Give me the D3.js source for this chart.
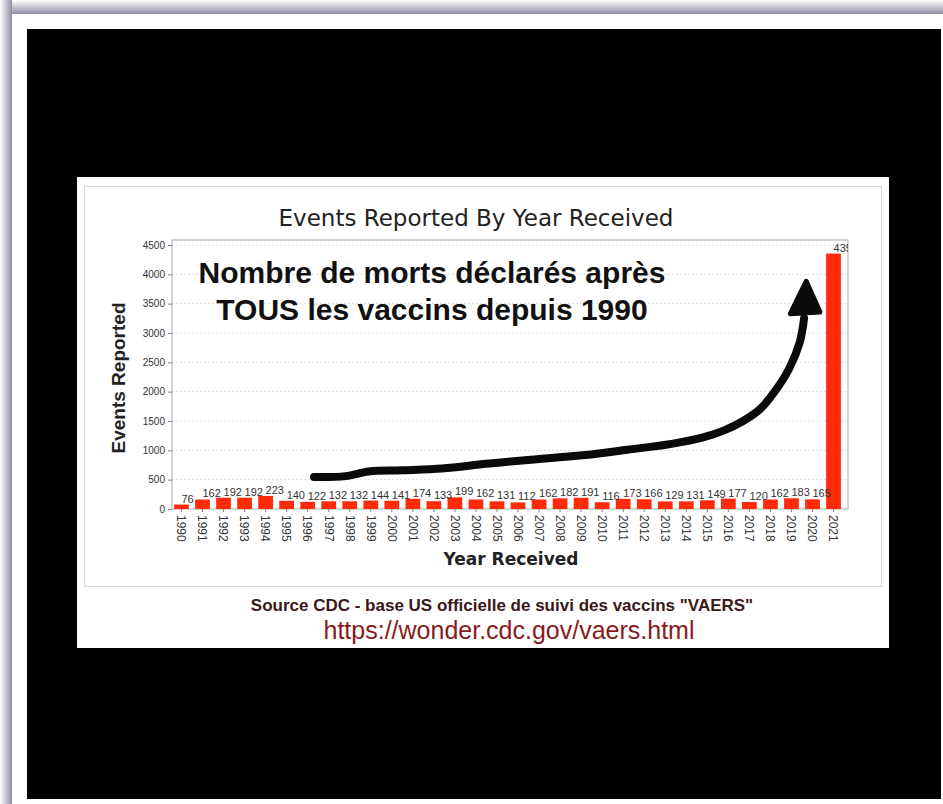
<!DOCTYPE html>
<html>
	<head>
		<meta charset="utf-8">
		<title>Events Reported By Year Received</title>
		<style>
			body {
				margin: 0;
				background: #fff;
			}
			svg {
				display: block;
			}
			.tick text {
				font: 10px "Liberation Sans", Arial, sans-serif;
				fill: #333;
			}
			.xaxis .tick text {
				font-size: 12px;
			}
			.barlabel {
				font: 11px "Liberation Sans", Arial, sans-serif;
				fill: #333;
			}
		</style>
	</head>
	<body>
		<script src="https://cdn.jsdelivr.net/npm/d3@7"></script>
		<script>
			// deaths reported per year (VAERS)
			var years = d3.range(1990, 2022);
			var counts = [76, 162, 192, 192, 223, 140, 122, 132, 132, 144, 141, 174, 133, 199, 162, 131,
				112, 162, 182, 191, 116, 173, 166, 129, 131, 149, 177, 120, 162, 183, 165, 4354];
			var yTicks = [0, 500, 1000, 1500, 2000, 2500, 3000, 3500, 4000, 4500];

			// hand drawn arrow, in [year, events] coordinates
			var arrowLine = [[1996.3, 545], [1997.8, 560], [1998.9, 640], [2000.5, 660], [2002.4, 690],
				[2004.5, 770], [2006.6, 840], [2009.2, 920], [2011.2, 1010], [2013.3, 1110],
				[2014.8, 1220], [2015.8, 1340], [2016.7, 1500], [2017.5, 1700], [2018.2, 2000],
				[2018.9, 2400], [2019.4, 2850], [2019.6, 3250]];
			var arrowHead = [[2019.7, 3880], [2018.95, 3330], [2020.35, 3360]];

			var width = 943;
			var height = 804;
			var svg = d3.select('body').append('svg')
						.attr('width', width)
						.attr('height', height);

			// frame of the screenshot
			var defs = svg.append('defs');
			var gTop = defs.append('linearGradient').attr('id', 'shTop')
				.attr('x1', 0).attr('y1', 0).attr('x2', 0).attr('y2', 1);
			gTop.append('stop').attr('offset', '0%').attr('stop-color', '#fff');
			gTop.append('stop').attr('offset', '100%').attr('stop-color', '#8e8ea2');
			var gLeft = defs.append('linearGradient').attr('id', 'shLeft')
				.attr('x1', 0).attr('y1', 0).attr('x2', 1).attr('y2', 0);
			gLeft.append('stop').attr('offset', '0%').attr('stop-color', '#fff');
			gLeft.append('stop').attr('offset', '100%').attr('stop-color', '#8e8ea2');

			svg.append('rect').attr('x', 0).attr('y', 0).attr('width', width).attr('height', 14)
				.attr('fill', 'url(#shTop)');
			svg.append('rect').attr('x', 0).attr('y', 0).attr('width', 12).attr('height', height)
				.attr('fill', 'url(#shLeft)');
			svg.append('rect').attr('x', 12).attr('y', 14).attr('width', width - 12).attr('height', height - 14)
				.attr('fill', '#fff');
			svg.append('rect').attr('x', 27).attr('y', 29).attr('width', 914).attr('height', 770)
				.attr('fill', '#000');

			// the chart picture
			svg.append('rect').attr('x', 77).attr('y', 177).attr('width', 812).attr('height', 471)
				.attr('fill', '#fff');
			svg.append('rect').attr('x', 84.5).attr('y', 186.5).attr('width', 797).attr('height', 400)
				.attr('fill', 'none')
				.attr('stroke', '#aaa')
				.attr('stroke-dasharray', '1,1');

			var plot = { left: 172, right: 848, top: 240, bottom: 509 };

			var x = d3.scaleBand()
				.domain(years)
				.range([plot.left, plot.right - 5])
				.paddingInner(0.3)
				.paddingOuter(0.1);
			var y = d3.scaleLinear()
				.domain([0, 4500])
				.range([plot.bottom, 245]);
			// continuous year scale for the arrow, centred on the bars
			var xc = d3.scaleLinear()
				.domain([1990, 2021])
				.range([x(1990) + x.bandwidth() / 2, x(2021) + x.bandwidth() / 2]);

			svg.append('text')
				.attr('x', 476)
				.attr('y', 226)
				.attr('text-anchor', 'middle')
				.style('font', '23px "DejaVu Sans", Verdana, sans-serif')
				.style('fill', '#222')
				.text('Events Reported By Year Received');

			// grid
			svg.append('g')
				.selectAll('line')
				.data(yTicks.slice(1))
				.enter().append('line')
				.attr('x1', plot.left).attr('x2', plot.right)
				.attr('y1', function(d) { return y(d); })
				.attr('y2', function(d) { return y(d); })
				.attr('stroke', '#ddd')
				.attr('stroke-dasharray', '2,2');

			svg.append('rect')
				.attr('x', plot.left).attr('y', plot.top)
				.attr('width', plot.right - plot.left).attr('height', plot.bottom - plot.top)
				.attr('fill', 'none')
				.attr('stroke', '#aaa');

			defs.append('clipPath').attr('id', 'plotClip')
				.append('rect')
				.attr('x', plot.left).attr('y', plot.top)
				.attr('width', plot.right - plot.left).attr('height', plot.bottom - plot.top);

			var bars = svg.append('g').attr('clip-path', 'url(#plotClip)');
			bars.selectAll('rect')
				.data(counts)
				.enter().append('rect')
				.attr('x', function(d, i) { return x(years[i]); })
				.attr('y', function(d) { return y(d); })
				.attr('width', x.bandwidth())
				.attr('height', function(d) { return plot.bottom - y(d); })
				.attr('fill', '#ff2a0a');

			bars.selectAll('text')
				.data(counts)
				.enter().append('text')
				.attr('class', 'barlabel')
				.attr('x', function(d, i) { return x(years[i]) + x.bandwidth() / 2; })
				.attr('y', function(d) { return y(d) - 2; })
				.text(function(d) { return d; });

			// axes
			var yAxis = svg.append('g')
				.attr('transform', 'translate(' + plot.left + ',0)')
				.call(d3.axisLeft(y).tickValues(yTicks).tickFormat(d3.format('d')).tickSize(4).tickPadding(3));
			yAxis.select('.domain').remove();
			yAxis.selectAll('.tick line').attr('stroke', '#888');

			var xAxis = svg.append('g')
				.attr('class', 'xaxis')
				.attr('transform', 'translate(0,' + plot.bottom + ')')
				.call(d3.axisBottom(x).tickSize(3).tickSizeOuter(0));
			xAxis.select('.domain').remove();
			xAxis.selectAll('.tick line').attr('stroke', '#888');
			xAxis.selectAll('.tick text')
				.attr('transform', 'rotate(90)')
				.attr('text-anchor', 'start')
				.attr('x', 6)
				.attr('y', 0)
				.attr('dy', '0.35em');

			svg.append('text')
				.attr('transform', 'translate(125,378) rotate(-90)')
				.attr('text-anchor', 'middle')
				.style('font', 'bold 19px "Liberation Sans", Arial, sans-serif')
				.style('fill', '#222')
				.text('Events Reported');

			svg.append('text')
				.attr('x', 511)
				.attr('y', 565)
				.attr('text-anchor', 'middle')
				.style('font', 'bold 17px "DejaVu Sans", Verdana, sans-serif')
				.style('fill', '#222')
				.text('Year Received');

			// annotation
			var note = svg.append('g')
				.style('font', 'bold 30px "Liberation Sans", Arial, sans-serif')
				.style('fill', '#111')
				.attr('text-anchor', 'middle');
			note.append('text').attr('x', 432).attr('y', 283).text('Nombre de morts déclarés après');
			note.append('text').attr('x', 432).attr('y', 320).text('TOUS les vaccins depuis 1990');

			var line = d3.line()
				.x(function(d) { return xc(d[0]); })
				.y(function(d) { return y(d[1]); })
				.curve(d3.curveCatmullRom);
			svg.append('path')
				.attr('d', line(arrowLine))
				.attr('fill', 'none')
				.attr('stroke', '#0a0a0a')
				.attr('stroke-width', 8)
				.attr('stroke-linecap', 'round');
			svg.append('path')
				.attr('d', d3.line()
					.x(function(d) { return xc(d[0]); })
					.y(function(d) { return y(d[1]); })(arrowHead) + 'Z')
				.attr('fill', '#0a0a0a')
				.attr('stroke', '#0a0a0a')
				.attr('stroke-width', 5)
				.attr('stroke-linejoin', 'round');

			// source
			svg.append('text')
				.attr('x', 502)
				.attr('y', 611)
				.attr('text-anchor', 'middle')
				.style('font', 'bold 17px "Liberation Sans", Arial, sans-serif')
				.style('fill', '#3b1818')
				.text('Source CDC - base US officielle de suivi des vaccins "VAERS"');
			svg.append('text')
				.attr('x', 509)
				.attr('y', 639)
				.attr('text-anchor', 'middle')
				.style('font', '25px "Liberation Sans", Arial, sans-serif')
				.style('fill', '#8a1a1a')
				.text('https://wonder.cdc.gov/vaers.html');
		</script>
	</body>
</html>
